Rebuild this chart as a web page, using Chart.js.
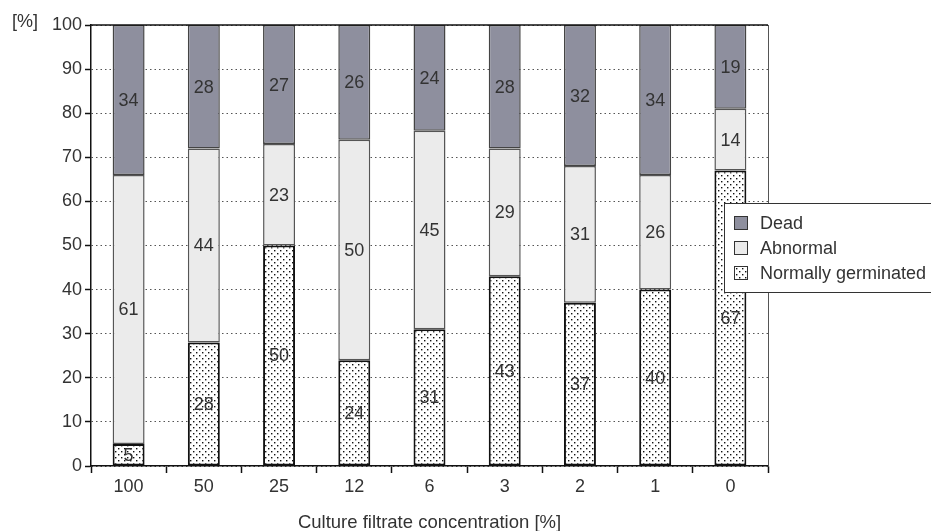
<!DOCTYPE html>
<html lang="en">
<head>
    <meta charset="UTF-8">
    <script src="https://cdn.jsdelivr.net/npm/chart.js@4.4.0/dist/chart.umd.min.js"></script>
    <title>Germination</title>
    <style>
        html, body { margin: 0; padding: 0; background: #fff; }
        #wrap { width: 931px; height: 531px; }
    </style>
</head>
<body>
    <div id="wrap"><canvas id="myChart" width="931" height="531"></canvas></div>
    <script>
        // data
        const categories = ['100', '50', '25', '12', '6', '3', '2', '1', '0'];
        const normalVals = [5, 28, 50, 24, 31, 43, 37, 40, 67];
        const abnormalVals = [61, 44, 23, 50, 45, 29, 31, 26, 14];
        const deadVals = [34, 28, 27, 26, 24, 28, 32, 34, 19];
        const yTicks = [0, 10, 20, 30, 40, 50, 60, 70, 80, 90, 100];

        const FONT = '"Liberation Sans", Arial, sans-serif';
        const DEAD_COLOR = 'rgb(142,143,158)';
        const ABN_COLOR = 'rgb(235,235,235)';

        // dotted fill for the "normally germinated" segments
        function makeDots() {
            const c = document.createElement('canvas');
            c.width = 6; c.height = 6;
            const g = c.getContext('2d');
            g.fillStyle = '#fff';
            g.fillRect(0, 0, 6, 6);
            g.fillStyle = '#111';
            g.fillRect(1, 1, 1.4, 1.4);
            g.fillRect(4, 4, 1.4, 1.4);
            return g.createPattern(c, 'repeat');
        }
        const dots = makeDots();

        const extras = {
            id: 'extras',
            afterDatasetsDraw(chart) {
                const ctx = chart.ctx;
                const a = chart.chartArea;
                ctx.save();
                // segment labels
                ctx.font = '18px ' + FONT;
                ctx.fillStyle = '#333';
                ctx.textAlign = 'center';
                ctx.textBaseline = 'middle';
                chart.data.datasets.forEach(function (ds, di) {
                    chart.getDatasetMeta(di).data.forEach(function (bar, i) {
                        const y = (bar.y + bar.base) / 2;
                        ctx.fillText(String(ds.data[i]), bar.x, y + 1);
                    });
                });
                // frame
                ctx.strokeStyle = '#111';
                ctx.lineWidth = 1.5;
                ctx.beginPath();
                ctx.moveTo(a.left, a.top);
                ctx.lineTo(a.right, a.top);
                ctx.stroke();
                ctx.strokeStyle = '#555';
                ctx.lineWidth = 1;
                ctx.beginPath();
                ctx.moveTo(a.right + 0.5, a.top);
                ctx.lineTo(a.right + 0.5, a.bottom);
                ctx.stroke();
                // unit label
                ctx.fillStyle = '#333';
                ctx.textAlign = 'left';
                ctx.fillText('[%]', 12, 22);
                // legend box
                const lx = 724, ly = 203, lw = 215, lh = 89;
                ctx.fillStyle = '#fff';
                ctx.fillRect(lx, ly, lw, lh);
                ctx.strokeStyle = '#333';
                ctx.lineWidth = 1;
                ctx.strokeRect(lx + 0.5, ly + 0.5, lw, lh);
                const items = [
                    ['Dead', DEAD_COLOR],
                    ['Abnormal', ABN_COLOR],
                    ['Normally germinated', dots]
                ];
                items.forEach(function (it, k) {
                    const cy = ly + 20 + k * 25;
                    ctx.fillStyle = it[1];
                    ctx.fillRect(734, cy - 7, 14, 14);
                    ctx.strokeStyle = '#333';
                    ctx.strokeRect(734.5, cy - 6.5, 13, 13);
                    ctx.fillStyle = '#333';
                    ctx.fillText(it[0], 760, cy + 1);
                });
                ctx.restore();
            }
        };

        const config = {
            type: 'bar',
            data: {
                labels: categories,
                datasets: [{
                    label: 'Normally germinated',
                    data: normalVals,
                    backgroundColor: dots,
                    borderColor: '#111',
                    borderWidth: 2,
                    borderSkipped: false
                }, {
                    label: 'Abnormal',
                    data: abnormalVals,
                    backgroundColor: ABN_COLOR,
                    borderColor: '#555',
                    borderWidth: 1.5,
                    borderSkipped: false
                }, {
                    label: 'Dead',
                    data: deadVals,
                    backgroundColor: DEAD_COLOR,
                    borderColor: '#444',
                    borderWidth: 1.5,
                    borderSkipped: false
                }]
            },
            options: {
                responsive: false,
                animation: false,
                layout: { padding: { left: 0, top: 25, right: 163, bottom: 0 } },
                datasets: { bar: { categoryPercentage: 1, barPercentage: 0.425 } },
                plugins: {
                    legend: { display: false },
                    tooltip: { enabled: false }
                },
                scales: {
                    x: {
                        stacked: true,
                        afterFit: function (axis) { axis.height = 65; },
                        grid: { drawOnChartArea: false, tickLength: 7, tickColor: '#111', tickWidth: 1.5 },
                        border: { color: '#111', width: 1.5 },
                        ticks: { color: '#333', font: { family: FONT, size: 18 }, padding: 3 },
                        title: {
                            display: true,
                            text: 'Culture filtrate concentration [%]',
                            color: '#333',
                            font: { family: FONT, size: 18.5, lineHeight: 1 },
                            padding: { top: 14, bottom: -1 }
                        }
                    },
                    y: {
                        stacked: true,
                        min: 0,
                        max: 100,
                        afterBuildTicks: function (axis) {
                            axis.ticks = yTicks.map(function (v) { return { value: v }; });
                        },
                        afterFit: function (axis) { axis.width = 91; },
                        grid: {
                            color: '#555',
                            lineWidth: 1,
                            tickLength: 6,
                            tickColor: '#111',
                            tickWidth: 1.5,
                            tickBorderDash: []
                        },
                        border: { color: '#111', width: 1.5, dash: [1.5, 3] },
                        ticks: { color: '#333', font: { family: FONT, size: 18 }, padding: 3 }
                    }
                }
            },
            plugins: [extras]
        };

        new Chart(document.getElementById('myChart'), config);
    </script>
</body>
</html>
